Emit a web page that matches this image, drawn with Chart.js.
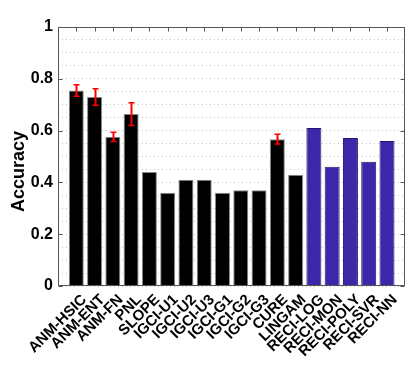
<!DOCTYPE html>
<html>
<head>
<meta charset="utf-8">
<script src="https://cdn.jsdelivr.net/npm/chart.js@4"></script>
<style>
    html, body { margin: 0; padding: 0; background: #fff; }
    #wrap { width: 415px; height: 370px; }
</style>
</head>
<body>
<div id="wrap"><canvas id="graph"></canvas></div>
<script>
const categories = ['ANM-HSIC', 'ANM-ENT', 'ANM-FN', 'PNL', 'SLOPE', 'IGCI-U1', 'IGCI-U2', 'IGCI-U3',
    'IGCI-G1', 'IGCI-G2', 'IGCI-G3', 'CURE', 'LINGAM', 'RECI-LOG', 'RECI-MON', 'RECI-POLY', 'RECI-SVR', 'RECI-NN'];
const accuracy = [0.755, 0.73, 0.576, 0.664, 0.44, 0.36, 0.41, 0.41,
    0.36, 0.37, 0.37, 0.567, 0.43, 0.61, 0.46, 0.571, 0.48, 0.56];
// half-width of the red error bars, null where there is none
const errors = [0.022, 0.032, 0.018, 0.044, null, null, null, null,
    null, null, null, 0.019, null, null, null, null, null, null];
const yLabels = [0, 0.2, 0.4, 0.6, 0.8, 1];
const yTitle = 'Accuracy';

const FONT = '"Liberation Sans", Arial, sans-serif';
Chart.defaults.font.family = FONT;
Chart.defaults.color = '#000';

const isReci = name => name.startsWith('RECI');

const frame = {
    id: 'frame',
    afterDatasetsDraw(chart) {
        const { ctx, chartArea: a, scales: { x, y } } = chart;
        ctx.save();

        // error bars
        ctx.strokeStyle = '#f00';
        errors.forEach((e, i) => {
            if (e == null) return;
            const px = Math.round(x.getPixelForValue(i + 1)) + 0.5;
            const top = y.getPixelForValue(accuracy[i] + e);
            const bot = y.getPixelForValue(accuracy[i] - e);
            ctx.lineWidth = 2;
            ctx.beginPath();
            ctx.moveTo(px, top);
            ctx.lineTo(px, bot);
            ctx.stroke();
            ctx.lineWidth = 1.5;
            ctx.beginPath();
            ctx.moveTo(px - 3, top);
            ctx.lineTo(px + 3, top);
            ctx.moveTo(px - 3, bot);
            ctx.lineTo(px + 3, bot);
            ctx.stroke();
        });

        // box and inward ticks
        ctx.strokeStyle = '#555';
        ctx.lineWidth = 1;
        const l = Math.round(a.left) + 0.5, r = Math.round(a.right) - 0.5;
        const t = Math.round(a.top) + 0.5, b = Math.round(a.bottom) - 0.5;
        ctx.beginPath();
        ctx.moveTo(l, t);
        ctx.lineTo(r, t);
        ctx.lineTo(r, b);
        ctx.lineTo(l, b);
        ctx.lineTo(l, t);
        yLabels.forEach(v => {
            const py = Math.round(y.getPixelForValue(v)) + 0.5;
            ctx.moveTo(l, py);
            ctx.lineTo(l + 4, py);
            ctx.moveTo(r, py);
            ctx.lineTo(r - 4, py);
        });
        categories.forEach((c, i) => {
            const px = Math.round(x.getPixelForValue(i + 1)) + 0.5;
            ctx.moveTo(px, t);
            ctx.lineTo(px, t + 4);
        });
        ctx.stroke();

        // y title, sits a bit below the middle like the original
        ctx.translate(19, (a.top + a.bottom) / 2 + 15);
        ctx.rotate(-Math.PI / 2);
        ctx.font = 'bold 18px ' + FONT;
        ctx.fillStyle = '#000';
        ctx.textAlign = 'center';
        ctx.textBaseline = 'middle';
        ctx.fillText(yTitle, 0, 0);
        ctx.restore();
    },
};

const graph = new Chart('graph', {
    type: 'bar',

    data: {
        datasets: [{
            data: accuracy.map((v, i) => ({ x: i + 1, y: v })),
            backgroundColor: categories.map(c => isReci(c) ? '#3b28a8' : '#000'),
            borderColor: categories.map(c => isReci(c) ? '#241870' : '#888'),
            borderWidth: 1,
            barPercentage: 0.82,
            categoryPercentage: 1,
        }],
    },

    options: {
        animation: false,
        responsive: true,
        maintainAspectRatio: false,
        layout: {
            padding: { top: 27, right: 8, left: 0, bottom: 0 },
        },

        plugins: {
            legend: { display: false },
            tooltip: { enabled: false },
        },

        scales: {
            x: {
                type: 'linear',
                min: 0,
                max: 19,
                offset: false,
                grid: { display: false },
                border: { display: false },
                ticks: {
                    stepSize: 1,
                    autoSkip: false,
                    maxRotation: 45,
                    minRotation: 45,
                    padding: -3,
                    labelOffset: 8,
                    font: { size: 15, weight: 'bold' },
                    callback: v => categories[v - 1] ?? '',
                },
                afterFit: s => { s.height = 84; },
            },

            y: {
                min: 0,
                max: 1,
                grid: {
                    color: '#c4c4c4',
                    lineWidth: 1,
                    drawTicks: false,
                },
                border: { display: false, dash: [1, 3] },
                ticks: {
                    stepSize: 0.05,
                    maxTicksLimit: 30,
                    autoSkip: false,
                    padding: 5,
                    font: { size: 16, weight: 'bold' },
                    callback: v => yLabels.some(t => Math.abs(t - v) < 1e-6) ? String(Number(v.toFixed(1))) : '',
                },
                afterFit: s => { s.width = 58; },
            },
        },
    },

    plugins: [frame],
});
</script>
</body>
</html>
